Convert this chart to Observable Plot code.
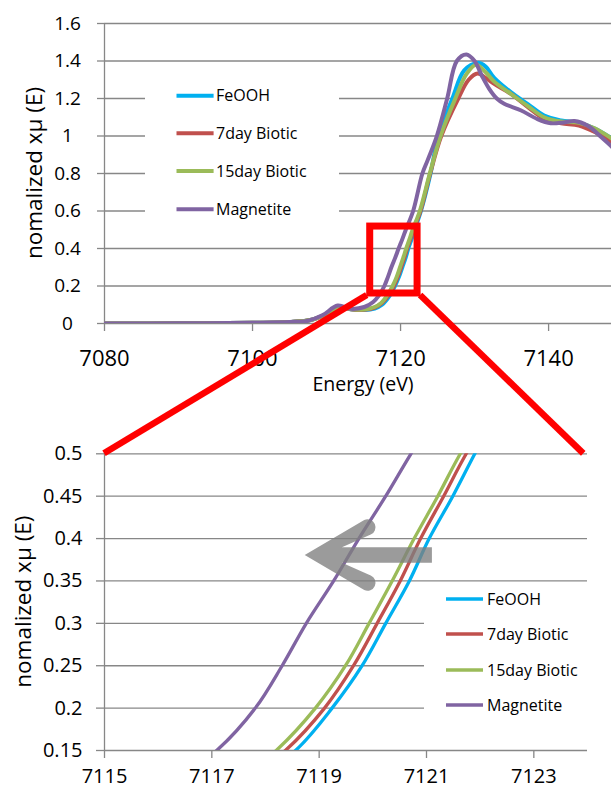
<!DOCTYPE html>
<html>
<head>
<meta charset="utf-8">
<script src="https://cdn.jsdelivr.net/npm/d3@7"></script>
<script src="https://cdn.jsdelivr.net/npm/@observablehq/plot@0.6"></script>
<style>
html, body { margin: 0; padding: 0; background: #fff; overflow: hidden; }
#wrap { position: relative; width: 611px; height: 788px; }
#wrap > svg { position: absolute; left: 0; }
</style>
</head>
<body>
<div id="wrap"></div>
<script>
// ---------- data ----------
const seriesNames = ["FeOOH", "7day Biotic", "15day Biotic", "Magnetite"];
const seriesColors = ["#00b0f0", "#c0504d", "#9bbb59", "#8064a2"];

const feoohE = [7080, 7090, 7100, 7105, 7108, 7110, 7111.9, 7113.5, 7115.1, 7116.5, 7117.5, 7118.56, 7119.24, 7119.80, 7120.24, 7120.68, 7121.05, 7121.49, 7121.9, 7122.75, 7124.05, 7125.1, 7127.0, 7128.6, 7130.4, 7131.5, 7132.65, 7134.9, 7137.2, 7139.4, 7141.7, 7144.1, 7146.3, 7148.6, 7150];
const feoohMu = [0, 0.001, 0.004, 0.008, 0.02, 0.05, 0.085, 0.075, 0.072, 0.08, 0.1, 0.15, 0.2, 0.25, 0.3, 0.35, 0.4, 0.45, 0.5, 0.6, 0.8, 1.0, 1.2, 1.35, 1.39, 1.37, 1.31, 1.234, 1.17, 1.109, 1.083, 1.07, 1.038, 0.985, 0.95];

const day7E = [7080, 7090, 7100, 7105, 7108, 7110, 7111.9, 7113.5, 7115.1, 7116.5, 7117.5, 7118.37, 7119.10, 7119.64, 7120.08, 7120.51, 7120.89, 7121.32, 7121.74, 7122.7, 7124.0, 7125.5, 7127.8, 7129.2, 7130.4, 7131.5, 7132.65, 7134.9, 7137.2, 7139.4, 7141.7, 7144.1, 7146.3, 7148.6, 7150];
const day7Mu = [0, 0.001, 0.004, 0.008, 0.02, 0.05, 0.085, 0.075, 0.073, 0.085, 0.11, 0.15, 0.2, 0.25, 0.3, 0.35, 0.4, 0.45, 0.5, 0.6, 0.8, 1.0, 1.2, 1.3, 1.333, 1.31, 1.278, 1.225, 1.154, 1.092, 1.068, 1.056, 1.02, 0.967, 0.94];

const day15E = [7080, 7090, 7100, 7105, 7108, 7110, 7111.9, 7113.5, 7115.1, 7116.5, 7117.4, 7118.20, 7118.93, 7119.49, 7119.93, 7120.36, 7120.77, 7121.21, 7121.63, 7122.6, 7123.95, 7125.4, 7127.4, 7128.9, 7130.2, 7131.5, 7132.65, 7134.9, 7137.2, 7139.4, 7141.7, 7144.1, 7146.3, 7148.6, 7150];
const day15Mu = [0, 0.001, 0.004, 0.008, 0.02, 0.05, 0.087, 0.076, 0.074, 0.088, 0.11, 0.15, 0.2, 0.25, 0.3, 0.35, 0.4, 0.45, 0.5, 0.6, 0.8, 1.0, 1.2, 1.33, 1.38, 1.34, 1.29, 1.225, 1.159, 1.10, 1.077, 1.07, 1.04, 0.985, 0.95];

const magE = [7080, 7090, 7100, 7105, 7107.5, 7109.5, 7111.5, 7113.3, 7115.1, 7116.3, 7117.09, 7117.81, 7118.31, 7118.76, 7119.27, 7119.74, 7120.24, 7120.71, 7121.7, 7122.95, 7123.65, 7124.9, 7126.3, 7127.6, 7128.9, 7130.0, 7131.0, 7132.0, 7133.0, 7134.0, 7136.3, 7138.5, 7140.3, 7142.0, 7143.5, 7145.3, 7147.1, 7148.6, 7150];
const magMu = [0, 0.001, 0.004, 0.008, 0.015, 0.045, 0.096, 0.078, 0.088, 0.115, 0.15, 0.2, 0.25, 0.3, 0.35, 0.4, 0.45, 0.5, 0.6, 0.8, 0.87, 1.0, 1.2, 1.4, 1.435, 1.40, 1.32, 1.25, 1.2, 1.172, 1.136, 1.09, 1.068, 1.072, 1.08, 1.055, 0.995, 0.94, 0.89];

const topXTicks = [7080, 7100, 7120, 7140];
const topYTicks = [0, 0.2, 0.4, 0.6, 0.8, 1, 1.2, 1.4, 1.6];
const botXTicks = [7115, 7117, 7119, 7121, 7123];
const botYTicks = [0.15, 0.2, 0.25, 0.3, 0.35, 0.4, 0.45, 0.5];

const xLabel = "Energy (eV)";
const yLabel = "nomalized xμ (E)";

// zoom-window annotation (top-chart data units) and arrow (bottom-chart data units)
const zoomBox = {x1: 7115.9, x2: 7122.3, y1: 0.16, y2: 0.517};
const arrowSpec = {tipE: 7118.74, tipMu: 0.38, tailE: 7121.11, armE: 7119.91, armUpMu: 0.4127, armDownMu: 0.3473};

// ---------- build ----------
const energies = [feoohE, day7E, day15E, magE];
const mus = [feoohMu, day7Mu, day15Mu, magMu];
const rows = seriesNames.flatMap((name, k) => energies[k].map((e, i) => ({series: name, E: e, mu: mus[k][i]})));

const FONT = '"Open Sans", "Liberation Sans", sans-serif';
const GRID = "#878787";
const fmt = d => String(d);

const topPlot = Plot.plot({
  width: 611, height: 400,
  marginLeft: 104, marginRight: 0, marginTop: 23, marginBottom: 77,
  x: {domain: [7080, 7148.5]},
  y: {domain: [0, 1.6]},
  color: {domain: seriesNames, range: seriesColors},
  style: {fontFamily: FONT, background: "transparent", color: "#000", overflow: "visible"},
  marks: [
    Plot.gridY(topYTicks.filter(d => d > 0), {stroke: GRID, strokeOpacity: 1, strokeWidth: 1.3}),
    Plot.axisY(topYTicks, {tickSize: 7, tickPadding: 30, textAnchor: "middle", tickFormat: fmt, fontSize: 19, label: null, stroke: GRID, strokeWidth: 1.3}),
    Plot.axisX(topXTicks, {tickSize: 8, tickPadding: 19, tickFormat: fmt, fontSize: 22, label: null, stroke: GRID, strokeWidth: 1.3}),
    Plot.ruleY([0], {stroke: GRID, strokeWidth: 1.3}),
    Plot.ruleX([7080], {stroke: GRID, strokeWidth: 1.3}),
    Plot.line(rows, {x: "E", y: "mu", z: "series", stroke: "series", strokeWidth: 4, curve: "catmull-rom", clip: true}),
    Plot.text([xLabel], {frameAnchor: "bottom", dy: 67, dx: 5, fontSize: 19.5})
  ]
});

const botPlot = Plot.plot({
  width: 611, height: 388,
  marginLeft: 104, marginRight: 24, marginTop: 53.3, marginBottom: 38,
  x: {domain: [7115, 7124]},
  y: {domain: [0.15, 0.5]},
  color: {domain: seriesNames, range: seriesColors},
  style: {fontFamily: FONT, background: "transparent", color: "#000", overflow: "visible"},
  marks: [
    Plot.gridY(botYTicks.filter(d => d > 0.15), {stroke: GRID, strokeOpacity: 1, strokeWidth: 1.3}),
    Plot.axisY(botYTicks, {tickSize: 8, tickPadding: 14, tickFormat: fmt, fontSize: 20, label: null, stroke: GRID, strokeWidth: 1.3}),
    Plot.axisX(botXTicks, {tickSize: 8, tickPadding: 10, tickFormat: fmt, fontSize: 20, label: null, stroke: GRID, strokeWidth: 1.3}),
    Plot.ruleY([0.15], {stroke: GRID, strokeWidth: 1.3}),
    Plot.ruleX([7115], {stroke: GRID, strokeWidth: 1.3}),
    Plot.line(rows, {x: "E", y: "mu", z: "series", stroke: "series", strokeWidth: 3.3, curve: "catmull-rom", clip: true})
  ]
});

const wrap = document.getElementById("wrap");
topPlot.style.top = "0px";
botPlot.style.top = "400px";
wrap.appendChild(topPlot);
wrap.appendChild(botPlot);

// ---------- y-axis titles ----------
function yTitle(svg, cx, fontSize) {
  const ys = svg.scale("y").range;
  const cy = (ys[0] + ys[1]) / 2;
  d3.select(svg).append("text")
    .attr("transform", `translate(${cx},${cy}) rotate(-90)`)
    .attr("text-anchor", "middle").attr("dy", "0.35em")
    .attr("font-family", FONT).attr("font-size", fontSize).attr("fill", "#000")
    .text(yLabel);
}
yTitle(topPlot, 34, 22.5);
yTitle(botPlot, 23, 22.5);

// ---------- legends ----------
function legend(svg, box, rowsY, sw1, sw2, textX, lineW) {
  const g = d3.select(svg).append("g");
  g.append("rect").attr("x", box[0]).attr("y", box[1]).attr("width", box[2] - box[0]).attr("height", box[3] - box[1]).attr("fill", "#fff");
  seriesNames.forEach((name, i) => {
    g.append("line").attr("x1", sw1).attr("x2", sw2).attr("y1", rowsY[i]).attr("y2", rowsY[i])
      .attr("stroke", seriesColors[i]).attr("stroke-width", lineW);
    g.append("text").attr("x", textX).attr("y", rowsY[i]).attr("dy", "0.35em")
      .attr("text-anchor", "start")
      .attr("font-family", FONT).attr("font-size", 16).attr("fill", "#000").text(name);
  });
}
legend(topPlot, [145, 70, 339, 235], [95.7, 133.3, 171, 209.3], 176.5, 213.6, 216, 4);
legend(botPlot, [424, 182, 592, 346], [199, 234, 270, 305], 446, 483, 487, 3.5);

// ---------- overlay: zoom box, connectors, arrow ----------
const tx = topPlot.scale("x").apply, ty = topPlot.scale("y").apply;
const bx = botPlot.scale("x").apply, by = v => 400 + botPlot.scale("y").apply(v);

const ov = d3.select(wrap).append("svg").attr("width", 611).attr("height", 788).style("top", "0px").style("pointer-events", "none");
const RED = "#ff0000";
const rx1 = tx(zoomBox.x1), rx2 = tx(zoomBox.x2), ry1 = ty(zoomBox.y2), ry2 = ty(zoomBox.y1);
ov.append("line").attr("x1", rx1 - 3).attr("y1", ry2 + 2).attr("x2", bx(7115)).attr("y2", by(0.5)).attr("stroke", RED).attr("stroke-width", 6.5);
ov.append("line").attr("x1", rx2 + 3).attr("y1", ry2 + 2).attr("x2", bx(7123.93)).attr("y2", by(0.5)).attr("stroke", RED).attr("stroke-width", 6.5);
ov.append("rect").attr("x", rx1).attr("y", ry1).attr("width", rx2 - rx1).attr("height", ry2 - ry1)
  .attr("fill", "none").attr("stroke", RED).attr("stroke-width", 7);

// arrow
(function () {
  const T = [bx(arrowSpec.tipE), by(arrowSpec.tipMu)];
  const Cu = [bx(arrowSpec.armE), by(arrowSpec.armUpMu)];
  const Cd = [bx(arrowSpec.armE), by(arrowSpec.armDownMu)];
  const tailX = bx(arrowSpec.tailE);
  const hw = 8, sh = 7.7;
  const sTop = T[1] - sh, sBot = T[1] + sh;
  function unit(a, b) { const dx = b[0] - a[0], dy = b[1] - a[1], l = Math.hypot(dx, dy); return [dx / l, dy / l]; }
  const du = unit(T, Cu), dd = unit(T, Cd);
  const nOutU = [du[1], -du[0]];
  const outU = nOutU[1] < 0 ? nOutU : [-nOutU[0], -nOutU[1]];
  const U1 = [Cu[0] + hw * outU[0], Cu[1] + hw * outU[1]];
  const U2 = [Cu[0] - hw * outU[0], Cu[1] - hw * outU[1]];
  const tU = (sTop - U2[1]) / du[1];
  const J1 = [U2[0] + tU * du[0], sTop];
  const nOutD = [dd[1], -dd[0]];
  const outD = nOutD[1] > 0 ? nOutD : [-nOutD[0], -nOutD[1]];
  const L1 = [Cd[0] + hw * outD[0], Cd[1] + hw * outD[1]];
  const L2 = [Cd[0] - hw * outD[0], Cd[1] - hw * outD[1]];
  const tD = (sBot - L2[1]) / dd[1];
  const J2 = [L2[0] + tD * dd[0], sBot];
  const p = `M${T} L${U1} A${hw},${hw} 0 0 1 ${U2} L${J1} L${tailX},${sTop} L${tailX},${sBot} L${J2} L${L2} A${hw},${hw} 0 0 1 ${L1} Z`;
  ov.append("path").attr("d", p).attr("fill", "#7f7f7f").attr("fill-opacity", 0.78);
})();
</script>
</body>
</html>
